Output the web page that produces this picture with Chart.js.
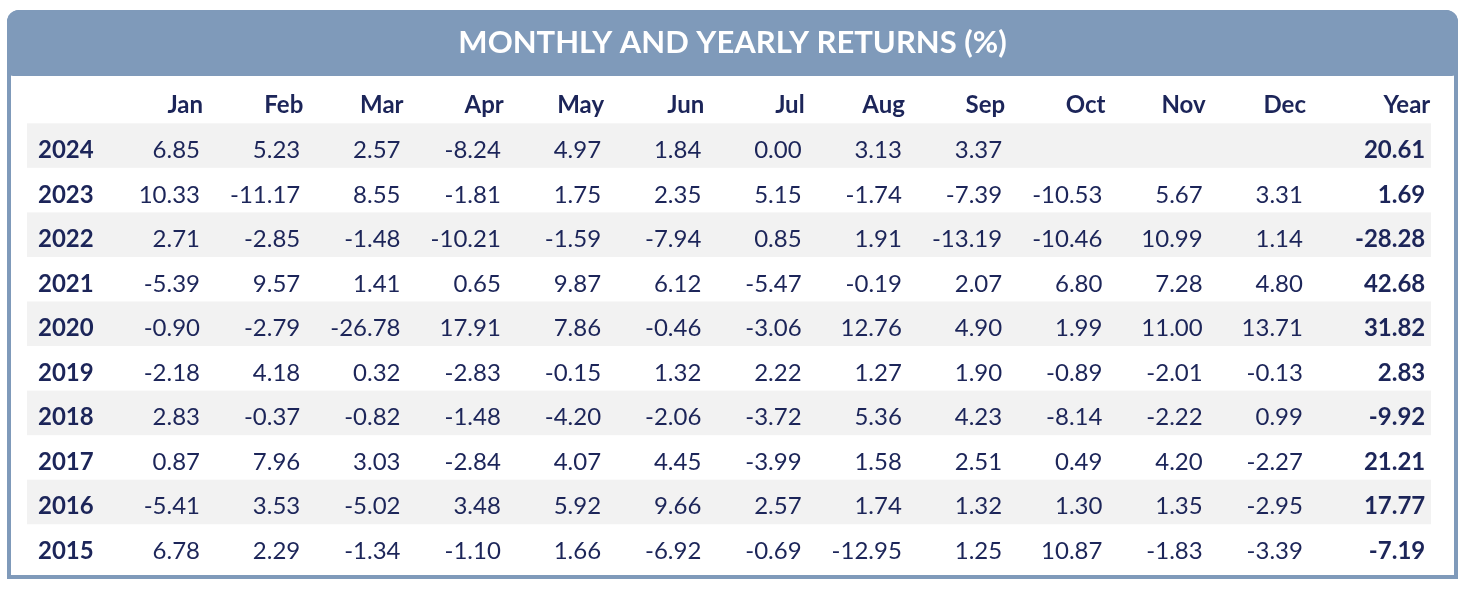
<!DOCTYPE html>
<html>
<head>
<meta charset="utf-8">
<script src="https://cdn.jsdelivr.net/npm/chart.js@4.4.1/dist/chart.umd.min.js"></script>
<style>
  html, body { margin: 0; padding: 0; background: #fff; }
  #wrap { position: relative; width: 1472px; height: 592px; }
</style>
</head>
<body>
<div id="wrap"><canvas id="chart"></canvas></div>
<script>
const TITLE = 'MONTHLY AND YEARLY RETURNS (%)'
const months = ['Jan', 'Feb', 'Mar', 'Apr', 'May', 'Jun', 'Jul', 'Aug', 'Sep', 'Oct', 'Nov', 'Dec']
const yearHeader = 'Year'
const years = ['2024', '2023', '2022', '2021', '2020', '2019', '2018', '2017', '2016', '2015']

// monthly returns per row, same order as years
const r2024 = [6.85, 5.23, 2.57, -8.24, 4.97, 1.84, 0.00, 3.13, 3.37, null, null, null]
const r2023 = [10.33, -11.17, 8.55, -1.81, 1.75, 2.35, 5.15, -1.74, -7.39, -10.53, 5.67, 3.31]
const r2022 = [2.71, -2.85, -1.48, -10.21, -1.59, -7.94, 0.85, 1.91, -13.19, -10.46, 10.99, 1.14]
const r2021 = [-5.39, 9.57, 1.41, 0.65, 9.87, 6.12, -5.47, -0.19, 2.07, 6.80, 7.28, 4.80]
const r2020 = [-0.90, -2.79, -26.78, 17.91, 7.86, -0.46, -3.06, 12.76, 4.90, 1.99, 11.00, 13.71]
const r2019 = [-2.18, 4.18, 0.32, -2.83, -0.15, 1.32, 2.22, 1.27, 1.90, -0.89, -2.01, -0.13]
const r2018 = [2.83, -0.37, -0.82, -1.48, -4.20, -2.06, -3.72, 5.36, 4.23, -8.14, -2.22, 0.99]
const r2017 = [0.87, 7.96, 3.03, -2.84, 4.07, 4.45, -3.99, 1.58, 2.51, 0.49, 4.20, -2.27]
const r2016 = [-5.41, 3.53, -5.02, 3.48, 5.92, 9.66, 2.57, 1.74, 1.32, 1.30, 1.35, -2.95]
const r2015 = [6.78, 2.29, -1.34, -1.10, 1.66, -6.92, -0.69, -12.95, 1.25, 10.87, -1.83, -3.39]
const monthly = [r2024, r2023, r2022, r2021, r2020, r2019, r2018, r2017, r2016, r2015]

// yearly totals, same order as years
const yearly = [20.61, 1.69, -28.28, 42.68, 31.82, 2.83, -9.92, 21.21, 17.77, -7.19]

// look
const NAVY = '#1c2559'
const FRAME = '#7f9aba'
const STRIPE = '#f2f2f2'
const FONT = 'Lato, "Noto Sans", sans-serif'
const YEAR_COL = 13.22   // x slot of the Year column
const LABEL_COL = -0.616 // x slot of the row labels (left aligned)

// one dataset per row, one point per cell
function rowDataset(vals, total, row) {
  const data = []
  vals.forEach((v, i) => {
    if (v !== null) data.push({ x: i + 1, y: row + 1, v, bold: false })
  })
  data.push({ x: YEAR_COL, y: row + 1, v: total, bold: true })
  return {
    label: years[row],
    data,
    pointRadius: 0,
    pointHoverRadius: 0,
    showLine: false
  }
}

// frame, header bar, stripes, text
const tablePlugin = {
  id: 'table',
  beforeDraw(chart) {
    const { ctx, scales: { x, y } } = chart
    ctx.save()
    // header bar
    ctx.fillStyle = FRAME
    ctx.beginPath()
    ctx.roundRect(7, 10, 1451, 66, [12, 12, 6, 6])
    ctx.fill()
    // outer frame
    ctx.strokeStyle = FRAME
    ctx.lineWidth = 4
    ctx.beginPath()
    ctx.roundRect(9, 12, 1447, 565, [10, 10, 0, 0])
    ctx.stroke()
    // stripes on every other row
    ctx.fillStyle = STRIPE
    years.forEach((yr, i) => {
      if (i % 2 !== 0) return
      const top = y.getPixelForValue(i + 1 - 0.6)
      const bot = y.getPixelForValue(i + 1 + 0.4)
      ctx.fillRect(chart.chartArea.left, top, chart.chartArea.right - chart.chartArea.left, bot - top)
    })
    // title
    ctx.fillStyle = '#fff'
    ctx.font = 'bold 31px ' + FONT
    ctx.textAlign = 'center'
    ctx.textBaseline = 'alphabetic'
    ctx.fillText(TITLE, 732.5, 53)
    ctx.restore()
  },
  afterDatasetsDraw(chart) {
    const { ctx, scales: { x, y } } = chart
    ctx.save()
    ctx.fillStyle = NAVY
    ctx.textBaseline = 'alphabetic'
    // column headers
    ctx.font = 'bold 24px ' + FONT
    ctx.textAlign = 'right'
    const hy = y.getPixelForValue(0) + 8
    months.forEach((m, i) => ctx.fillText(m, x.getPixelForValue(i + 1) + 3, hy))
    ctx.fillText(yearHeader, x.getPixelForValue(YEAR_COL) + 5, hy)
    // row labels
    ctx.textAlign = 'left'
    years.forEach((yr, i) => ctx.fillText(yr, x.getPixelForValue(LABEL_COL), y.getPixelForValue(i + 1) + 8))
    // cells
    ctx.textAlign = 'right'
    chart.data.datasets.forEach((ds, di) => {
      const meta = chart.getDatasetMeta(di)
      meta.data.forEach((el, i) => {
        const d = ds.data[i]
        ctx.font = (d.bold ? 'bold ' : '') + '24px ' + FONT
        ctx.fillText(d.v.toFixed(2), el.x, el.y + 8)
      })
    })
    ctx.restore()
  }
}

function createChart() {
  const ctx = document.getElementById('chart')
  const config = {
    type: 'scatter',
    data: {
      datasets: monthly.map((vals, i) => rowDataset(vals, yearly[i], i))
    },
    options: {
      responsive: true,
      maintainAspectRatio: false,
      animation: false,
      events: [],
      layout: {
        padding: { left: 27, right: 41, top: 123.3, bottom: 14.3 }
      },
      scales: {
        x: { type: 'linear', min: -0.7253, max: 13.277, display: false },
        y: { type: 'linear', min: 0.4, max: 10.6, reverse: true, display: false }
      },
      plugins: {
        legend: { display: false },
        tooltip: { enabled: false },
        title: { display: false }
      }
    },
    plugins: [tablePlugin]
  }
  return new Chart(ctx, config)
}

createChart()
</script>
</body>
</html>
